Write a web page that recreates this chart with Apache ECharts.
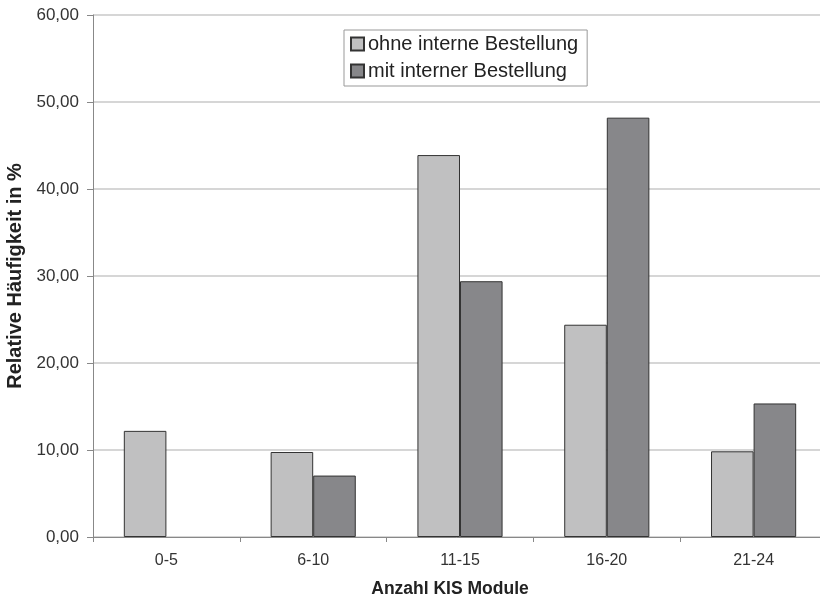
<!DOCTYPE html>
<html>
<head>
<meta charset="utf-8">
<script src="https://cdn.jsdelivr.net/npm/echarts@6/dist/echarts.min.js"></script>
<style>html,body{margin:0;padding:0;background:#fff;}#c{width:820px;height:604px;}</style>
</head>
<body>
<div id="c"></div>
<script>
const categories = ['0-5', '6-10', '11-15', '16-20', '21-24'];
const ohneInterne = [12.2, 9.77, 43.9, 24.4, 9.85];
const mitInterner = [null, 7.06, 29.4, 48.2, 15.35];
const seriesNames = ['ohne interne Bestellung', 'mit interner Bestellung'];
const xAxisTitle = 'Anzahl KIS Module';
const yAxisTitle = 'Relative Häufigkeit in %';

const FONT = '"Liberation Sans", Arial, sans-serif';
const chart = echarts.init(document.getElementById('c'), null, {renderer: 'canvas'});
chart.setOption({
  animation: false,
  backgroundColor: '#fff',
  textStyle: {fontFamily: FONT},
  grid: {left: 93, right: -7, top: 15, bottom: 67, containLabel: false, outerBoundsMode: 'none'},
  legend: {
    orient: 'vertical',
    left: 344, top: 30,
    padding: [4, 9, 5, 6],
    itemGap: 7,
    itemWidth: 13, itemHeight: 13,
    borderColor: '#999', borderWidth: 1,
    textStyle: {fontFamily: FONT, fontSize: 20, color: '#222', padding: [0, 0, 0, -1]},
    data: seriesNames,
    icon: 'rect'
  },
  xAxis: {
    type: 'category',
    data: categories,
    name: xAxisTitle,
    nameLocation: 'middle',
    nameGap: 43,
    nameTextStyle: {fontFamily: FONT, fontSize: 17.5, fontWeight: 'bold', color: '#222', padding: [0, 20, 0, 0]},
    axisLine: {lineStyle: {color: '#888', width: 1}},
    axisTick: {show: true, length: 5, lineStyle: {color: '#888'}},
    axisLabel: {fontFamily: FONT, fontSize: 16, color: '#333', margin: 16}
  },
  yAxis: {
    type: 'value',
    min: 0, max: 60, interval: 10,
    name: yAxisTitle,
    nameLocation: 'middle',
    nameGap: 64,
    nameRotate: 90,
    nameTextStyle: {fontFamily: FONT, fontSize: 20, fontWeight: 'bold', color: '#222'},
    axisLine: {show: true, lineStyle: {color: '#888', width: 1}},
    axisTick: {show: true, length: 6, lineStyle: {color: '#888'}},
    axisLabel: {fontFamily: FONT, fontSize: 17, color: '#333', margin: 14,
      formatter: v => v.toFixed(2).replace('.', ',')},
    splitLine: {show: true, lineStyle: {color: '#c8c8c8', width: 1.5}}
  },
  series: [
    {
      name: seriesNames[0], type: 'bar', data: ohneInterne,
      barGap: '0%', barCategoryGap: '42%',
      itemStyle: {color: '#c0c0c1', borderColor: '#333', borderWidth: 1}
    },
    {
      name: seriesNames[1], type: 'bar', data: mitInterner,
      barGap: '0%', barCategoryGap: '42%',
      itemStyle: {color: '#87878a', borderColor: '#333', borderWidth: 1}
    }
  ]
});
</script>
</body>
</html>
